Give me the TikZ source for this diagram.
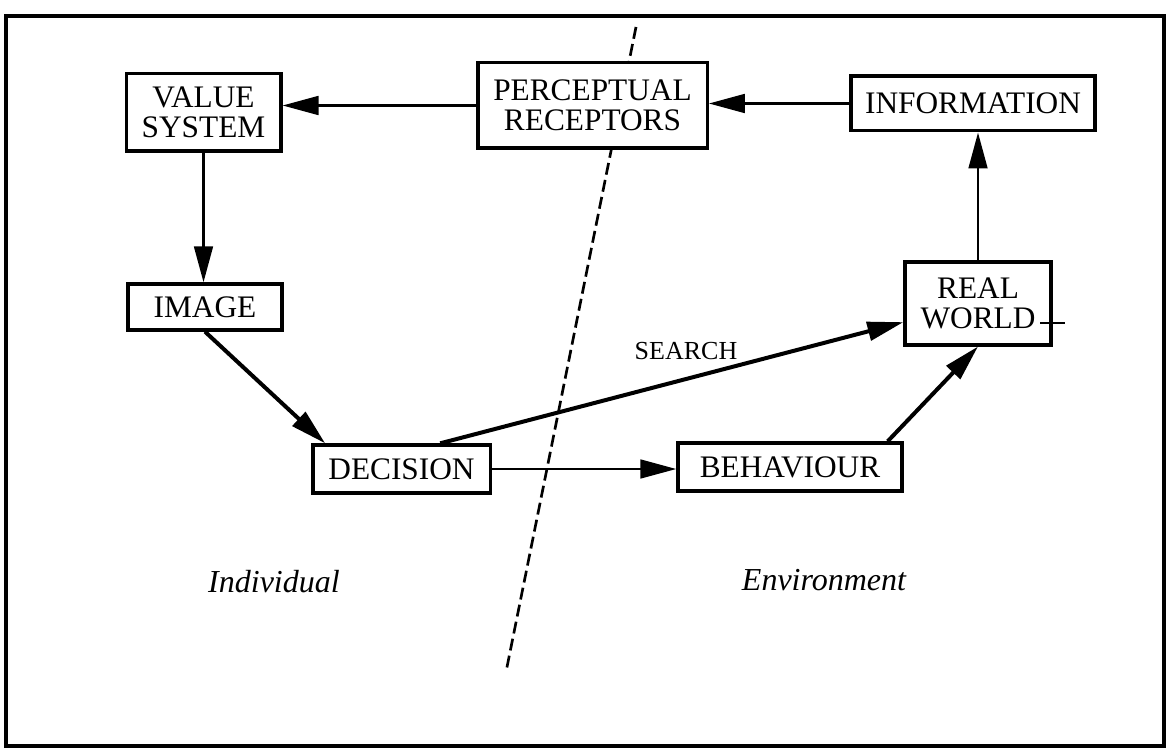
\documentclass[tikz,border=0pt]{standalone}
\usepackage{fontspec}
\setmainfont{Liberation Serif}
\usetikzlibrary{arrows.meta}

\tikzset{
  block/.style={draw, line width=2.5pt, fill=white, align=center, inner sep=0pt,
    font=\fontsize{23.5}{22.5}\selectfont},
  flow/.style={line width=2.1pt, -{Triangle[length=27pt,width=14pt]}},
  flowbold/.style={flow, line width=3pt},
  sidetext/.style={font=\fontsize{24}{26}\selectfont\itshape},
}

\begin{document}
\begin{tikzpicture}[x=0.75pt,y=0.75pt,yscale=-1,xscale=1]
\useasboundingbox (0,0) rectangle (1169,748);

%Shape: Frame
\draw [line width=2.4pt] (6,16) rectangle (1164,746);

%Straight Lines: dashed divider
\coordinate (divtop) at (636,27);
\coordinate (divbot) at (506,672);
\draw [line width=2pt, dash pattern=on 9pt off 4pt] (divtop) -- (divbot);

%Shape: Boxes
\node [block, minimum width=116pt, minimum height=58pt] (value) at (203.5,112.5) {VALUE\\SYSTEM};
\node [block, minimum width=115.5pt, minimum height=34.5pt] (image) at (205,307) {IMAGE};
\node [block, minimum width=172pt, minimum height=64pt] (percept) at (592.5,105.5) {PERCEPTUAL\\RECEPTORS};
\node [block, minimum width=183pt, minimum height=41pt] (info) at (973,103.5) {INFORMATION};
\node [block, minimum width=109.5pt, minimum height=62pt] (real) at (978,303.5) {REAL\\WORLD};
\node [block, minimum width=133pt, minimum height=36pt] (decision) at (401.5,469) {DECISION};
\node [block, minimum width=168pt, minimum height=36pt] (behav) at (790,467) {BEHAVIOUR};

%Straight Lines: arrows
\draw [flow] (percept.west) -- (percept.west -| value.east);
\draw [flow] (info.west) -- (info.west -| percept.east);
\draw [flow] (value.south) -- (value.south |- image.north);
\draw [flowbold] (image.south) -- ([xshift=10.5pt]decision.north west);
\draw [flow] (decision.east) -- (decision.east -| behav.west);
\draw [flowbold] ([xshift=29pt]decision.north) -- ([yshift=14pt]real.west);
\draw [flowbold] ([xshift=-12pt]behav.north east) -- (real.south);
\draw [flow] (real.north) -- (real.north |- info.south);

%Straight Lines: small tick
\coordinate (ticka) at (1040,323);
\coordinate (tickb) at (1065,323);
\draw [line width=0.8pt] (ticka) -- (tickb);

% Text Node
\node [font=\fontsize{19.5}{21}\selectfont] (search) at (686,351) {SEARCH};
% Text Node
\node [sidetext] (indiv) at (274,582) {Individual};
% Text Node
\node [sidetext] (env) at (824,580) {Environment};
\end{tikzpicture}
\end{document}
